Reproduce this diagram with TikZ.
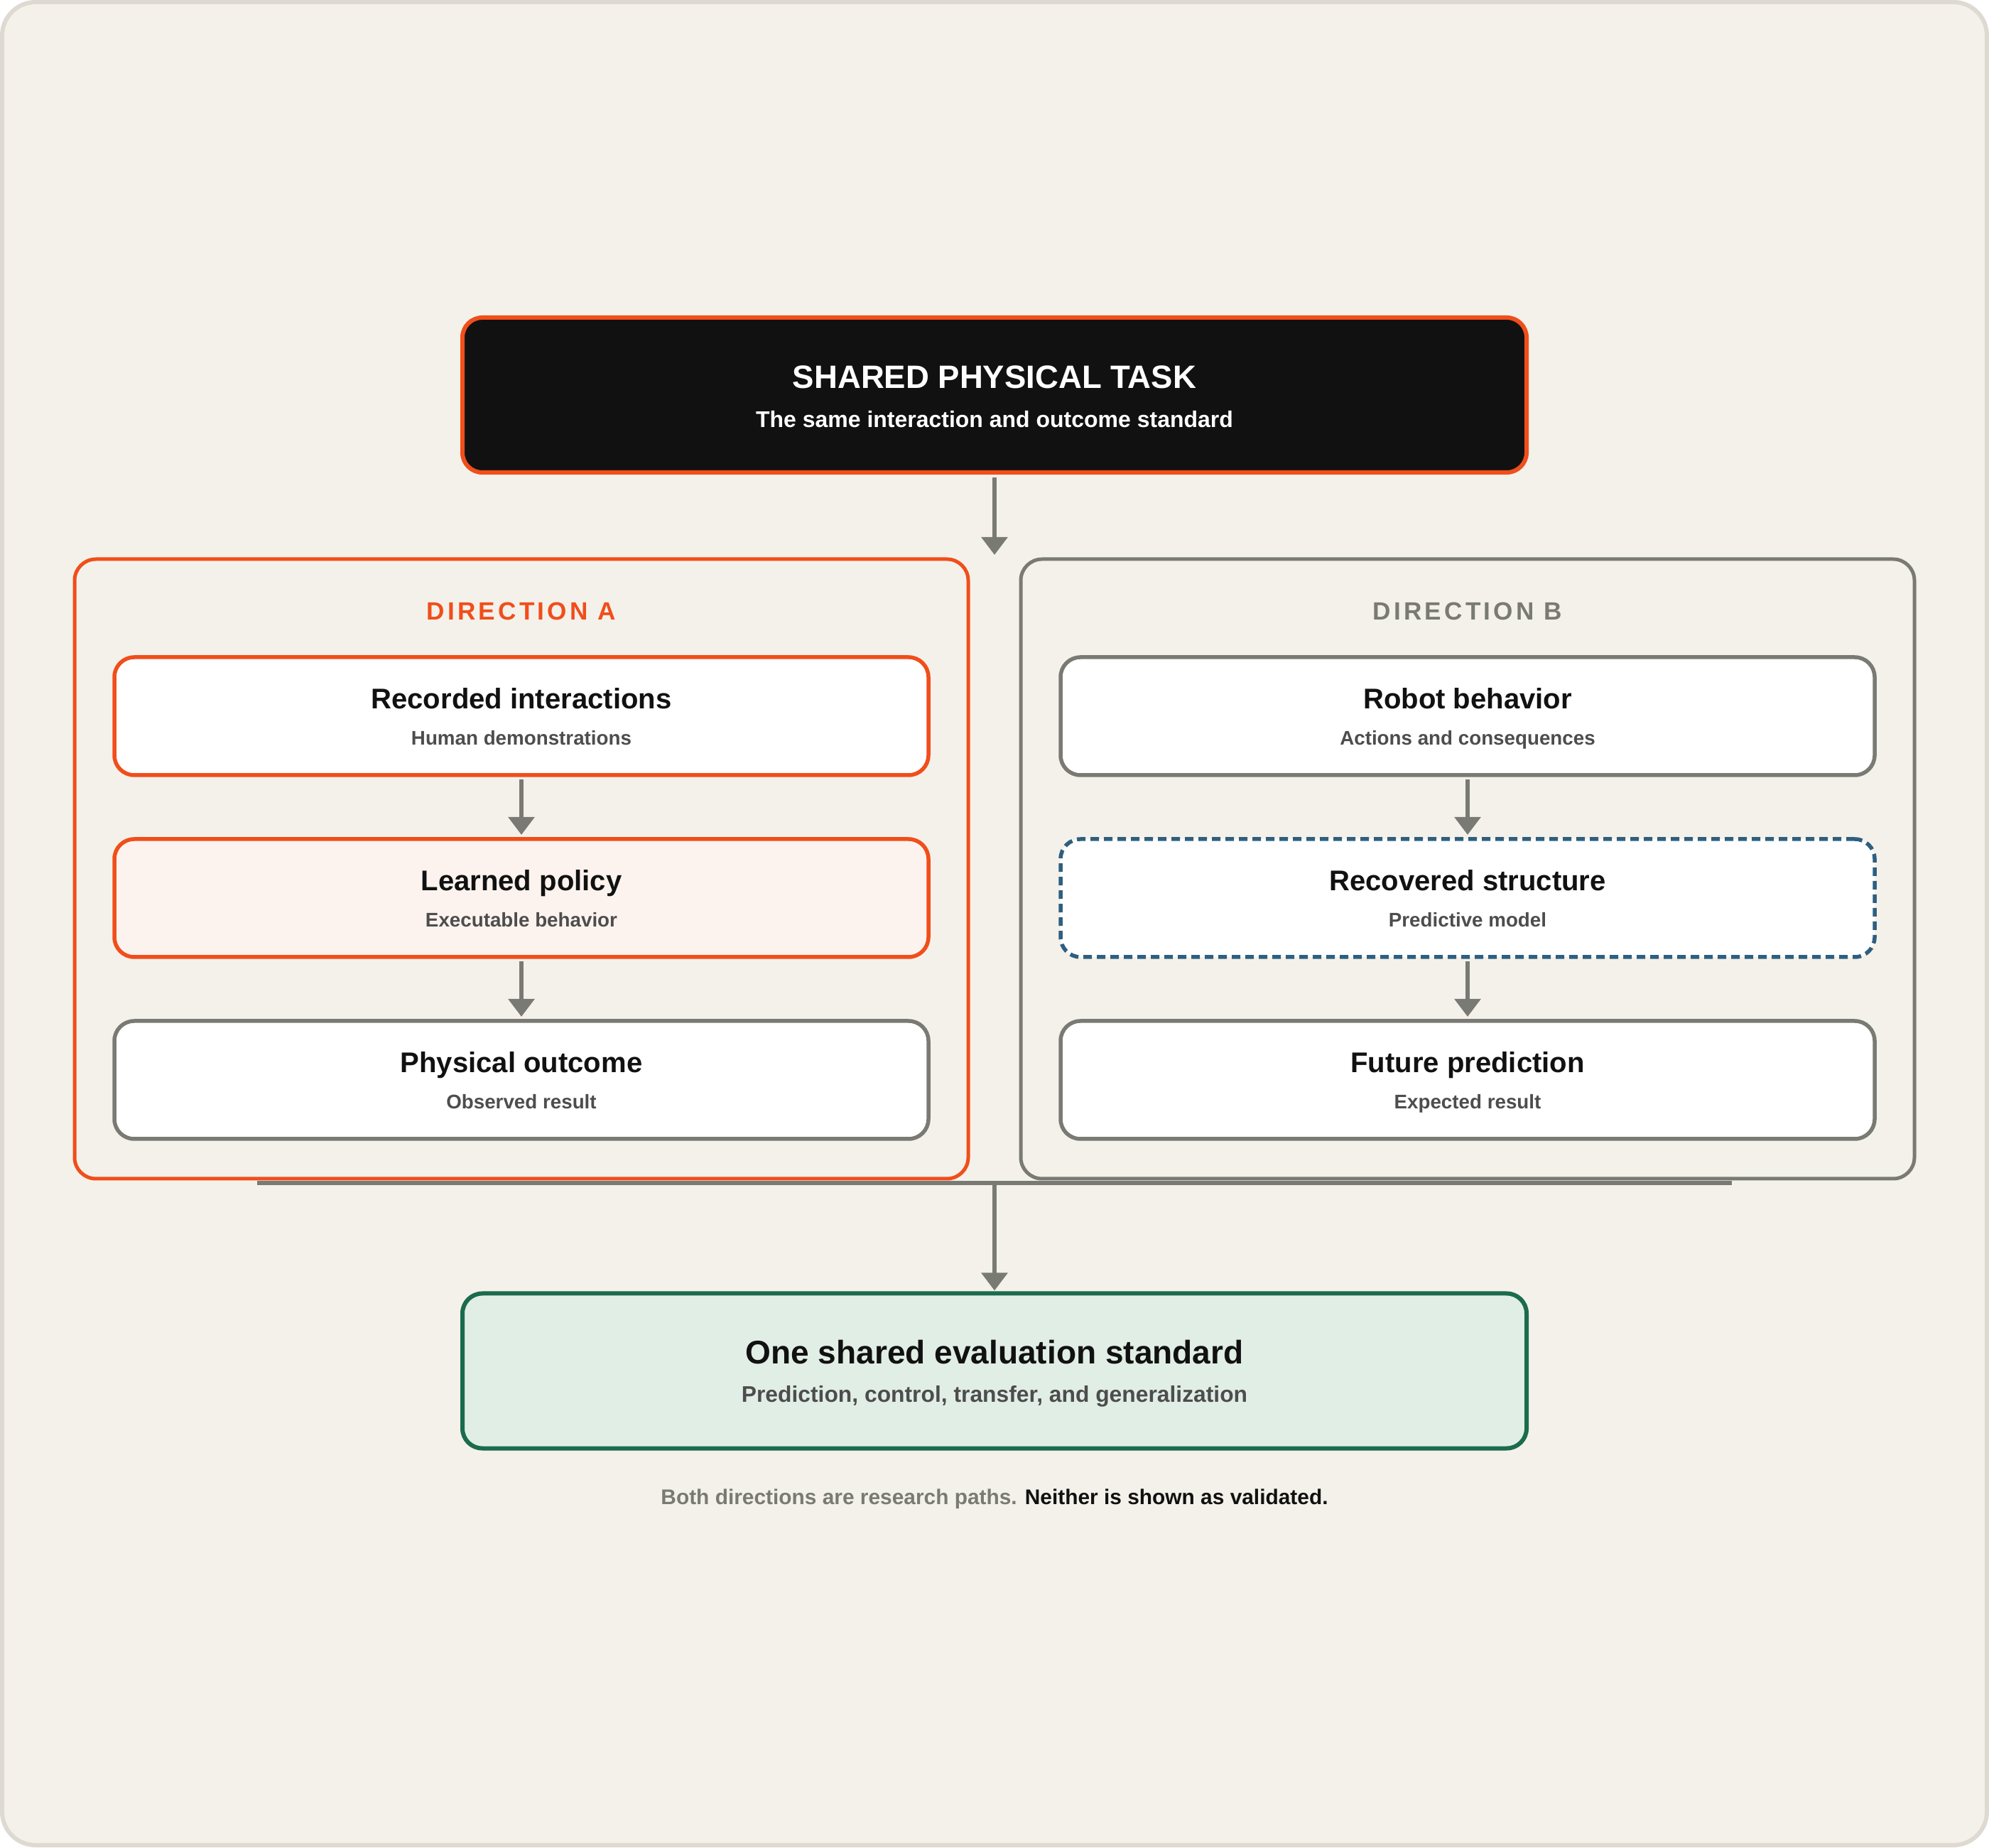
\documentclass[tikz,border=0pt]{standalone}
\usepackage{fontspec}
\setmainfont{Liberation Sans}
\newfontfamily\trackfont[LetterSpace=12]{Liberation Sans}
\usetikzlibrary{positioning,arrows.meta}
\definecolor{paper}{HTML}{F4F1EA}
\definecolor{rim}{HTML}{DEDAD2}
\definecolor{rust}{HTML}{F04E1B}
\definecolor{slate}{HTML}{7A7A74}
\definecolor{ink}{HTML}{111111}
\definecolor{blush}{HTML}{FDF3EE}
\definecolor{navy}{HTML}{2E5F80}
\definecolor{pine}{HTML}{1B6B4D}
\definecolor{mint}{HTML}{E1EEE6}
\definecolor{muted}{HTML}{4D4D4D}
\begin{document}
\begin{tikzpicture}[>={Triangle[width=3.6mm,length=2.5mm]},node distance=0.9cm,
  box/.style={rectangle,rounded corners=2.8mm,line width=0.55mm,fill=white,inner sep=0pt,outer sep=0pt,minimum width=11.46cm,minimum height=1.66cm},
  bigbox/.style={box,line width=0.6mm,minimum width=14.98cm,minimum height=2.18cm},
  panel/.style={rectangle,rounded corners=3mm,line width=0.5mm,fill=paper,inner sep=0pt,outer sep=0pt,minimum width=12.58cm,minimum height=8.72cm},
  flow/.style={->,color=slate,line width=0.6mm,shorten <=0.6mm,shorten >=0.6mm},
  head/.style={anchor=base,inner sep=0pt,text=ink,font=\fontsize{11.4pt}{13pt}\selectfont\bfseries},
  sub/.style={anchor=base,inner sep=0pt,text=muted,font=\fontsize{7.9pt}{9pt}\selectfont\bfseries},
  tag/.style={anchor=base,inner sep=0pt,font=\fontsize{10pt}{12pt}\selectfont\trackfont\bfseries}]
    % frame
    \draw[rim,line width=0.6mm,fill=paper,rounded corners=4.7mm] (0.03,0.03) rectangle (27.97,25.97);
    \useasboundingbox (0,0) rectangle (28,26);
    % shared task
    \node [bigbox,draw=rust,fill=ink] (task) at (14,20.44) {};
    \node [head,text=white,font=\fontsize{12.95pt}{15pt}\selectfont\bfseries] (taskt) at ([yshift=-1.00cm]task.north) {SHARED PHYSICAL TASK};
    \node [sub,text=white,font=\fontsize{9.1pt}{11pt}\selectfont\bfseries] (tasks) at ([yshift=-1.55cm]task.north) {The same interaction and outcome standard};
    % two directions
    \node [panel,draw=rust] (dirA) at (7.34,13.77) {};
    \node [panel,draw=slate] (dirB) at (20.66,13.77) {};
    \node [tag,text=rust] (dirAt) at ([yshift=-0.86cm]dirA.north) {DIRECTION A};
    \node [tag,text=slate] (dirBt) at ([yshift=-0.86cm]dirB.north) {DIRECTION B};
    \coordinate (fork) at (task.south |- dirA.north);
    \draw [flow,shorten <=0.7mm] (task) -- (fork);
    % direction A
    \node [box,draw=rust,below=1.38cm of dirA.north] (a1) {};
    \node [box,draw=rust,fill=blush,below=of a1] (a2) {};
    \node [box,draw=slate,below=of a2] (a3) {};
    \node [head] (a1t) at ([yshift=-0.73cm]a1.north) {Recorded interactions};
    \node [sub] (a1s) at ([yshift=-1.24cm]a1.north) {Human demonstrations};
    \node [head] (a2t) at ([yshift=-0.73cm]a2.north) {Learned policy};
    \node [sub] (a2s) at ([yshift=-1.24cm]a2.north) {Executable behavior};
    \node [head] (a3t) at ([yshift=-0.73cm]a3.north) {Physical outcome};
    \node [sub] (a3s) at ([yshift=-1.24cm]a3.north) {Observed result};
    % direction B
    \node [box,draw=slate,below=1.38cm of dirB.north] (b1) {};
    \node [box,draw=navy,dash pattern=on 1.2mm off 0.7mm,below=of b1] (b2) {};
    \node [box,draw=slate,below=of b2] (b3) {};
    \node [head] (b1t) at ([yshift=-0.73cm]b1.north) {Robot behavior};
    \node [sub] (b1s) at ([yshift=-1.24cm]b1.north) {Actions and consequences};
    \node [head] (b2t) at ([yshift=-0.73cm]b2.north) {Recovered structure};
    \node [sub] (b2s) at ([yshift=-1.24cm]b2.north) {Predictive model};
    \node [head] (b3t) at ([yshift=-0.73cm]b3.north) {Future prediction};
    \node [sub] (b3s) at ([yshift=-1.24cm]b3.north) {Expected result};
    \path [flow] (a1) edge (a2) (a2) edge (a3) (b1) edge (b2) (b2) edge (b3);
    % evaluation
    \node [bigbox,draw=pine,fill=mint] (goal) at (14,6.705) {};
    \node [head,font=\fontsize{13.1pt}{15pt}\selectfont\bfseries] (goalt) at ([yshift=-0.99cm]goal.north) {One shared evaluation standard};
    \node [sub,font=\fontsize{9.05pt}{11pt}\selectfont\bfseries] (goals) at ([yshift=-1.53cm]goal.north) {Prediction, control, transfer, and generalization};
    \coordinate (busL) at (3.62,9.35);
    \coordinate (busR) at (24.38,9.35);
    \coordinate (join) at (busL -| goal.north);
    \draw [slate,line width=0.6mm] (busL) -- (busR);
    \draw [flow,shorten <=0pt,shorten >=0.4mm] (join) -- (goal);
    \node [anchor=base,inner sep=0pt,font=\fontsize{8.5pt}{10pt}\selectfont\bfseries] (note) at (14,4.83) {\textcolor{slate}{Both directions are research paths.} \textcolor{ink}{Neither is shown as validated.}};
\end{tikzpicture}
\end{document}
